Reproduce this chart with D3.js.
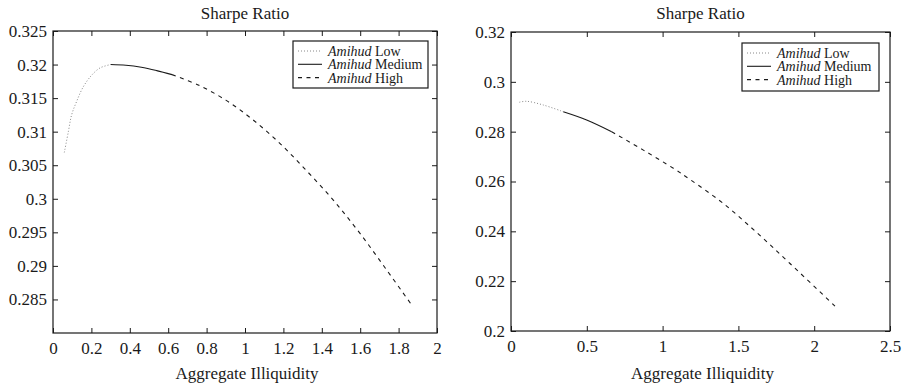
<!DOCTYPE html>
<html>
<head>
<meta charset="utf-8">
<script src="https://cdn.jsdelivr.net/npm/d3@7"></script>
<style>
  body { margin: 0; background: #fff; }
  svg, svg text { font-family: "Liberation Serif", Tinos, "Times New Roman", "DejaVu Serif", serif !important; }
</style>
</head>
<body>
<div id="chart"></div>
<script>
// left panel series
const leftLowX = [0.059, 0.080, 0.097, 0.123, 0.158, 0.201, 0.245, 0.300];
const leftLowY = [0.3069, 0.3100, 0.3125, 0.3145, 0.3167, 0.3184, 0.3195, 0.3200];
const leftMedX = [0.30, 0.38, 0.46, 0.54, 0.62];
const leftMedY = [0.3200, 0.3199, 0.3196, 0.3191, 0.3185];
const leftHighX = [0.62, 0.76, 0.90, 1.04, 1.18, 1.32, 1.46, 1.60, 1.74, 1.87];
const leftHighY = [0.3185, 0.3169, 0.3147, 0.3118, 0.3083, 0.3042, 0.2998, 0.2948, 0.2893, 0.2841];

// right panel series
const rightLowX = [0.055, 0.100, 0.213, 0.345];
const rightLowY = [0.2918, 0.2922, 0.2907, 0.2880];
const rightMedX = [0.345, 0.499, 0.664];
const rightMedY = [0.2880, 0.2847, 0.2800];
const rightHighX = [0.664, 0.873, 1.071, 1.181, 1.400, 1.621, 1.840, 2.137];
const rightHighY = [0.2800, 0.2726, 0.2653, 0.2608, 0.2512, 0.2395, 0.2271, 0.2100];

// ticks
const leftXTicks = [0, 0.2, 0.4, 0.6, 0.8, 1, 1.2, 1.4, 1.6, 1.8, 2];
const leftYTicks = [0.285, 0.29, 0.295, 0.3, 0.305, 0.31, 0.315, 0.32, 0.325];
const rightXTicks = [0, 0.5, 1, 1.5, 2, 2.5];
const rightYTicks = [0.2, 0.22, 0.24, 0.26, 0.28, 0.3, 0.32];

const legendLabels = ['Low', 'Medium', 'High'];
const title = 'Sharpe Ratio';
const xTitle = 'Aggregate Illiquidity';

const width = 905, height = 386;
const ink = '#1a1a1a';
const serif = '"Liberation Serif", Tinos, "Times New Roman", "DejaVu Serif", serif';

const svg = d3.select('#chart').append('svg')
  .attr('width', width)
  .attr('height', height)
  .attr('font-family', serif);

const styles = [
  { stroke: '#888', dash: '1,2', width: 1 },
  { stroke: ink, dash: null, width: 1.1 },
  { stroke: ink, dash: '4,4.5', width: 1.1 }
];

function fmt(v) {
  return String(+v.toFixed(4));
}

function drawPanel(cfg) {
  const { left, right, top, bottom } = cfg;
  const x = d3.scaleLinear().domain(cfg.xDomain).range([left, right]);
  const y = d3.scaleLinear().domain(cfg.yDomain).range([bottom, top]);
  const g = svg.append('g');

  // inward ticks on all four sides
  const tick = 5;
  const bx = g.append('g').attr('transform', `translate(0,${bottom})`)
    .call(d3.axisBottom(x).tickValues(cfg.xTicks).tickSize(-tick).tickPadding(9).tickFormat(fmt));
  const tx = g.append('g').attr('transform', `translate(0,${top})`)
    .call(d3.axisTop(x).tickValues(cfg.xTicks).tickSize(-tick).tickFormat(''));
  const ly = g.append('g').attr('transform', `translate(${left},0)`)
    .call(d3.axisLeft(y).tickValues(cfg.yTicks).tickSize(-tick).tickPadding(6).tickFormat(fmt));
  const ry = g.append('g').attr('transform', `translate(${right},0)`)
    .call(d3.axisRight(y).tickValues(cfg.yTicks).tickSize(-tick).tickFormat(''));

  [bx, tx, ly, ry].forEach(a => {
    a.attr('font-family', serif).attr('font-size', 17);
    a.select('.domain').remove();
    a.selectAll('line').attr('stroke', ink);
    a.selectAll('text').attr('fill', ink);
  });

  g.append('rect')
    .attr('x', left).attr('y', top)
    .attr('width', right - left).attr('height', bottom - top)
    .attr('fill', 'none').attr('stroke', ink).attr('stroke-width', 1.2);

  const line = d3.line().x(d => x(d[0])).y(d => y(d[1])).curve(d3.curveCatmullRom);
  cfg.series.forEach((s, i) => {
    const pts = s.x.map((v, j) => [v, s.y[j]]);
    g.append('path')
      .attr('d', line(pts))
      .attr('fill', 'none')
      .attr('stroke', styles[i].stroke)
      .attr('stroke-width', styles[i].width)
      .attr('stroke-dasharray', styles[i].dash);
  });

  g.append('text')
    .attr('x', (left + right) / 2).attr('y', 19)
    .attr('text-anchor', 'middle').attr('fill', ink)
    .attr('font-size', 17).text(title);

  g.append('text')
    .attr('x', (left + right) / 2 + 2).attr('y', 379)
    .attr('text-anchor', 'middle').attr('fill', ink)
    .attr('font-size', 17).text(xTitle);

  // legend
  const lg = cfg.legend;
  g.append('rect')
    .attr('x', lg.x).attr('y', lg.y).attr('width', lg.w).attr('height', lg.h)
    .attr('fill', '#fff').attr('stroke', ink).attr('stroke-width', 1.2);
  legendLabels.forEach((lab, i) => {
    const ry0 = lg.y + 10 + i * 13.3;
    g.append('line')
      .attr('x1', lg.x + 5).attr('x2', lg.x + 29)
      .attr('y1', ry0).attr('y2', ry0)
      .attr('stroke', styles[i].stroke)
      .attr('stroke-width', styles[i].width)
      .attr('stroke-dasharray', styles[i].dash);
    const t = g.append('text')
      .attr('x', lg.x + 35).attr('y', ry0 + 5)
      .attr('fill', ink).attr('font-size', 14);
    t.append('tspan').attr('font-style', 'italic').text('Amihud');
    t.append('tspan').text(' ' + lab);
  });
}

drawPanel({
  left: 53, right: 437, top: 31, bottom: 333,
  xDomain: [0, 2], yDomain: [0.28, 0.325],
  xTicks: leftXTicks, yTicks: leftYTicks,
  series: [
    { x: leftLowX, y: leftLowY },
    { x: leftMedX, y: leftMedY },
    { x: leftHighX, y: leftHighY }
  ],
  legend: { x: 293, y: 41, w: 135, h: 47 }
});

drawPanel({
  left: 511, right: 890, top: 32, bottom: 331,
  xDomain: [0, 2.5], yDomain: [0.2, 0.32],
  xTicks: rightXTicks, yTicks: rightYTicks,
  series: [
    { x: rightLowX, y: rightLowY },
    { x: rightMedX, y: rightMedY },
    { x: rightHighX, y: rightHighY }
  ],
  legend: { x: 742, y: 43, w: 137, h: 48 }
});
</script>
</body>
</html>
